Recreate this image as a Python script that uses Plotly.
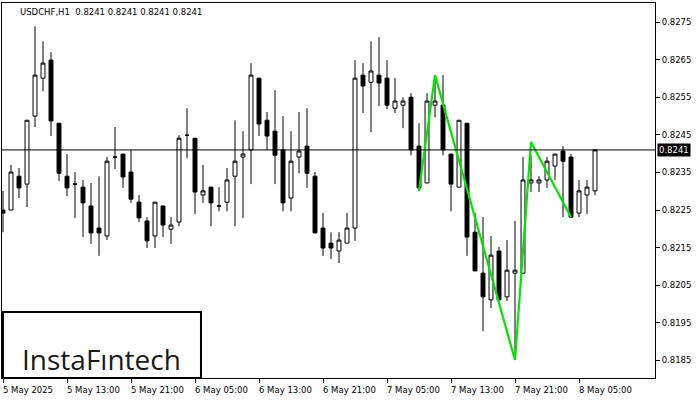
import plotly.graph_objects as go

opens = [0.82250,0.82250,0.82340,0.82319,0.82500,0.82601,0.82649,0.82481,0.82340,0.82319,
         0.82311,0.82261,0.82202,0.82181,0.82391,0.82399,0.82351,0.82271,0.82221,0.82181,
         0.82261,0.82199,0.82218,0.82449,0.82441,0.82290,0.82311,0.82261,0.82271,0.82340,
         0.82391,0.82410,0.82601,0.82489,0.82460,0.82410,0.82282,0.82391,0.82420,0.82340,
         0.82202,0.82162,0.82141,0.82162,0.82202,0.82609,0.82590,0.82609,0.82601,0.82521,
         0.82529,0.82550,0.82420,0.82322,0.82529,0.82529,0.82399,0.82311,0.82481,0.82191,
         0.82082,0.82011,0.82141,0.82019,0.82082,0.82082,0.82322,0.82322,0.82330,0.82367,
         0.82407,0.82391,0.82242,0.82290,0.82301]
highs = [0.82301,0.82370,0.82362,0.82489,0.82739,0.82699,0.82670,0.82481,0.82399,0.82351,
         0.82330,0.82322,0.82340,0.82391,0.82471,0.82399,0.82410,0.82290,0.82231,0.82271,
         0.82261,0.82231,0.82449,0.82521,0.82441,0.82370,0.82311,0.82311,0.82362,0.82489,
         0.82460,0.82641,0.82601,0.82511,0.82569,0.82500,0.82460,0.82511,0.82521,0.82351,
         0.82242,0.82191,0.82191,0.82242,0.82649,0.82641,0.82699,0.82710,0.82649,0.82601,
         0.82550,0.82561,0.82481,0.82561,0.82604,0.82609,0.82399,0.82489,0.82481,0.82242,
         0.82231,0.82181,0.82152,0.82170,0.82221,0.82391,0.82396,0.82340,0.82391,0.82399,
         0.82420,0.82399,0.82330,0.82330,0.82407]
lows = [0.82191,0.82250,0.82282,0.82258,0.82471,0.82566,0.82447,0.82327,0.82287,0.82229,
        0.82178,0.82160,0.82128,0.82170,0.82359,0.82309,0.82269,0.82218,0.82149,0.82149,
        0.82178,0.82160,0.82207,0.82388,0.82239,0.82269,0.82207,0.82247,0.82247,0.82207,
        0.82229,0.82319,0.82447,0.82410,0.82319,0.82247,0.82247,0.82348,0.82309,0.82189,
        0.82128,0.82120,0.82109,0.82162,0.82168,0.82508,0.82457,0.82527,0.82519,0.82508,
        0.82468,0.82396,0.82301,0.82322,0.82497,0.82396,0.82247,0.82311,0.82128,0.82088,
        0.81928,0.81989,0.82011,0.82008,0.81851,0.82082,0.82298,0.82298,0.82309,0.82330,
        0.82231,0.82231,0.82231,0.82239,0.82290]
closes = [0.82242,0.82351,0.82309,0.82489,0.82609,0.82641,0.82487,0.82348,0.82309,0.82319,
          0.82269,0.82189,0.82189,0.82380,0.82391,0.82338,0.82279,0.82229,0.82168,0.82271,
          0.82210,0.82210,0.82441,0.82449,0.82298,0.82301,0.82269,0.82261,0.82330,0.82380,
          0.82399,0.82609,0.82479,0.82447,0.82396,0.82269,0.82380,0.82407,0.82348,0.82189,
          0.82149,0.82149,0.82170,0.82202,0.82601,0.82580,0.82620,0.82588,0.82529,0.82540,
          0.82540,0.82410,0.82309,0.82540,0.82540,0.82410,0.82319,0.82489,0.82178,0.82088,
          0.82019,0.82130,0.82011,0.82090,0.82090,0.82330,0.82330,0.82330,0.82380,0.82399,
          0.82380,0.82231,0.82301,0.82311,0.82410]

pattern_idx = [52, 54, 64, 66, 71]
pattern_price = [0.82301, 0.82609, 0.81851, 0.82431, 0.82231]

tick_idx = [0, 8, 16, 24, 32, 40, 48, 56, 64, 72]
tick_text = ["5 May 2025", "5 May 13:00", "5 May 21:00", "6 May 05:00", "6 May 13:00",
             "6 May 21:00", "7 May 05:00", "7 May 13:00", "7 May 21:00", "8 May 05:00"]
price_ticks = [0.8185, 0.8195, 0.8205, 0.8215, 0.8225, 0.8235, 0.8245, 0.8255, 0.8265, 0.8275]
current_price = 0.8241
title_text = "USDCHF,H1  0.8241 0.8241 0.8241 0.8241"

x = list(range(len(opens)))
FONT = "DejaVu Sans"

fig = go.Figure()
fig.add_trace(go.Candlestick(
    x=x, open=opens, high=highs, low=lows, close=closes,
    increasing=dict(line=dict(color="black", width=1), fillcolor="white"),
    decreasing=dict(line=dict(color="black", width=1), fillcolor="black"),
    whiskerwidth=0, showlegend=False, hoverinfo="skip"))
fig.add_trace(go.Scatter(x=pattern_idx, y=pattern_price, mode="lines",
                         line=dict(color="#00e600", width=2.2), showlegend=False,
                         hoverinfo="skip"))

fig.add_shape(type="line", xref="paper", x0=0, x1=1, yref="y",
              y0=current_price, y1=current_price, line=dict(color="black", width=1))

# logo box
fig.add_shape(type="rect", xref="paper", yref="paper",
              x0=0.0015, x1=0.3047, y0=0.0, y1=0.176,
              line=dict(color="black", width=2), fillcolor="white", layer="above")
fig.add_annotation(xref="paper", yref="paper", x=0.153, y=0.05, text="InstaFıntech",
                   showarrow=False, xanchor="center", yanchor="middle",
                   font=dict(family="Open Sans", size=28, color="#1a1a1a", weight=500))

# title
fig.add_annotation(xref="paper", yref="paper", x=0.025, y=0.995, text=title_text,
                   showarrow=False, xanchor="left", yanchor="top",
                   font=dict(family=FONT, size=8.5, color="black"))

# current price label
fig.add_annotation(xref="paper", yref="y", x=1, y=current_price, text=f"{current_price:.4f}",
                   showarrow=False, xanchor="left", yanchor="middle", xshift=2,
                   bgcolor="black", borderpad=1,
                   font=dict(family=FONT, size=8.5, color="white"))

# x labels, left aligned to tick
for ti, tt in zip(tick_idx, tick_text):
    fig.add_annotation(xref="x", yref="paper", x=ti, y=0, yshift=-5, text=tt,
                       showarrow=False, xanchor="left", yanchor="top", xshift=-2,
                       font=dict(family=FONT, size=8.5, color="black"))

fig.update_layout(
    width=700, height=400,
    margin=dict(l=2, r=45, t=3, b=22),
    paper_bgcolor="white", plot_bgcolor="white",
    font=dict(family=FONT, size=8.5, color="black"),
    xaxis=dict(range=[-0.125, 81.5], rangeslider=dict(visible=False),
               showgrid=False, zeroline=False, showline=True, mirror=True,
               linecolor="black", linewidth=1, tickvals=tick_idx,
               showticklabels=False, ticks="outside", ticklen=4, tickcolor="black"),
    yaxis=dict(range=[0.81803, 0.82801], side="right", showgrid=False, zeroline=False,
               showline=True, mirror=True, linecolor="black", linewidth=1,
               tickvals=price_ticks, ticktext=[f"{v:.4f}" for v in price_ticks],
               ticks="outside", ticklen=4, tickcolor="black"),
)

fig.write_html("out.html", config={"displayModeBar": False},
               post_script="document.body.style.margin='0px';")
